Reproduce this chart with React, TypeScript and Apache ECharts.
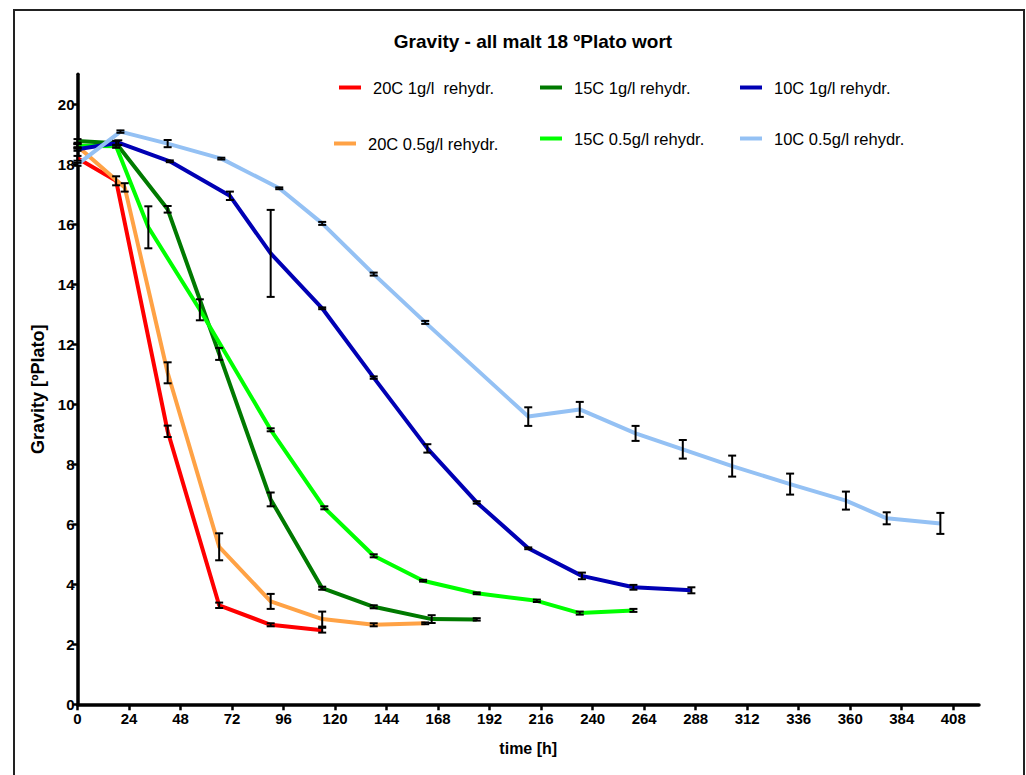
import React, { useEffect, useRef } from 'react';
import * as echarts from 'echarts';

const xTicks = [0, 24, 48, 72, 96, 120, 144, 168, 192, 216, 240, 264, 288, 312, 336, 360, 384, 408];
const yTicks = [0, 2, 4, 6, 8, 10, 12, 14, 16, 18, 20];

const seriesNames = [
  '20C 1g/l  rehydr.',
  '20C 0.5g/l rehydr.',
  '15C 1g/l rehydr.',
  '15C 0.5g/l rehydr.',
  '10C 1g/l rehydr.',
  '10C 0.5g/l rehydr.',
];
const seriesColors = ['#ff0000', '#ffa245', '#007a00', '#00ff00', '#0000b4', '#94c1f4'];

// 20C 1g/l
const hours20a = [0, 18, 42, 66, 90, 114];
const grav20a = [18.2, 17.45, 9.1, 3.3, 2.65, 2.47];
const err20a = [0.08, 0.15, 0.19, 0.09, 0.05, 0.08];
// 20C 0.5g/l
const hours20b = [0, 22, 42, 66, 90, 114, 138, 162];
const grav20b = [18.6, 17.23, 11.05, 5.25, 3.43, 2.84, 2.65, 2.7];
const err20b = [0.08, 0.14, 0.35, 0.45, 0.25, 0.25, 0.05, 0.03];
// 15C 1g/l
const hours15a = [0, 18, 42, 66, 90, 114, 138, 165, 186];
const grav15a = [18.78, 18.7, 16.5, 11.68, 6.83, 3.87, 3.25, 2.84, 2.83];
const err15a = [0.06, 0.08, 0.11, 0.2, 0.23, 0.05, 0.05, 0.13, 0.04];
// 15C 0.5g/l
const hours15b = [0, 18, 33, 57, 90, 115, 138, 161, 186, 214, 234, 259];
const grav15b = [18.62, 18.6, 15.9, 13.15, 9.15, 6.55, 4.95, 4.12, 3.7, 3.45, 3.04, 3.13];
const err15b = [0.05, 0.05, 0.7, 0.35, 0.05, 0.05, 0.05, 0.03, 0.03, 0.04, 0.05, 0.05];
// 10C 1g/l
const hours10a = [0, 19, 43, 71, 90, 114, 138, 163, 186, 210, 235, 259, 286];
const grav10a = [18.5, 18.72, 18.1, 16.95, 15.03, 13.2, 10.89, 8.53, 6.73, 5.2, 4.28, 3.9, 3.8];
const err10a = [0.05, 0.08, 0.03, 0.14, 1.45, 0.03, 0.04, 0.14, 0.04, 0.03, 0.11, 0.08, 0.1];
// 10C 0.5g/l
const hours10b = [0, 20, 42, 67, 94, 114, 138, 162, 210, 234, 260, 282, 305, 332, 358, 377, 402];
const grav10b = [18.0, 19.09, 18.69, 18.19, 17.2, 16.03, 14.34, 12.73, 9.59, 9.83, 9.03, 8.5, 7.94, 7.34, 6.79, 6.2, 6.03];
const err10b = [0.05, 0.04, 0.12, 0.03, 0.03, 0.05, 0.05, 0.05, 0.31, 0.25, 0.25, 0.31, 0.35, 0.35, 0.3, 0.2, 0.35];

const allHours = [hours20a, hours20b, hours15a, hours15b, hours10a, hours10b];
const allGrav = [grav20a, grav20b, grav15a, grav15b, grav10a, grav10b];
const allErr = [err20a, err20b, err15a, err15b, err10a, err10b];

const FONT = '"Liberation Sans", Arial, Helvetica, sans-serif';

// legend placement (icon left x, center y)
const legendPos = [
  { left: 339, cy: 88 },
  { left: 334, cy: 144 },
  { left: 540, cy: 88 },
  { left: 540, cy: 139 },
  { left: 740, cy: 88 },
  { left: 740, cy: 139 },
];

export default function App() {
  const ref = useRef<HTMLDivElement>(null);
  useEffect(() => {
    if (!ref.current) return;
    const chart = echarts.init(ref.current, null, { renderer: 'svg' });

    const lineSeries = seriesNames.map((name, i) => ({
      type: 'line',
      name,
      data: allHours[i].map((h, j) => [h, allGrav[i][j]]),
      symbol: 'none',
      showSymbol: false,
      lineStyle: { width: 4, color: seriesColors[i], join: 'round' },
      itemStyle: { color: seriesColors[i] },
      z: 2,
    }));

    const errSeries = seriesNames.map((name, i) => ({
      type: 'custom',
      name: name + ' SD',
      data: allHours[i].map((h, j) => [h, allGrav[i][j] - allErr[i][j], allGrav[i][j] + allErr[i][j]]),
      encode: { x: 0, y: [1, 2] },
      z: 5,
      silent: true,
      renderItem: (params: any, api: any) => {
        const x = api.value(0);
        const top = api.coord([x, api.value(2)]);
        const bot = api.coord([x, api.value(1)]);
        const hw = 4;
        const st = { stroke: '#000', lineWidth: 2 };
        return {
          type: 'group',
          children: [
            { type: 'line', shape: { x1: top[0], y1: top[1], x2: bot[0], y2: bot[1] }, style: st },
            { type: 'line', shape: { x1: top[0] - hw, y1: top[1], x2: top[0] + hw, y2: top[1] }, style: st },
            { type: 'line', shape: { x1: bot[0] - hw, y1: bot[1], x2: bot[0] + hw, y2: bot[1] }, style: st },
          ],
        };
      },
    }));

    const legends = seriesNames.map((name, i) => ({
      data: [name],
      left: legendPos[i].left,
      top: legendPos[i].cy - 9,
      icon: 'rect',
      itemWidth: 22,
      itemHeight: 4,
      padding: 0,
      itemGap: 0,
      selectedMode: false,
      textStyle: { fontSize: 16.5, color: '#000', fontFamily: FONT, padding: [0, 0, 0, 7] },
    }));

    chart.setOption({
      animation: false,
      backgroundColor: '#fff',
      title: {
        text: 'Gravity - all malt 18 ºPlato wort',
        left: 528,
        top: 27,
        textAlign: 'center',
        textStyle: { fontSize: 19, fontWeight: 'bold', color: '#000', fontFamily: FONT },
      },
      legend: legends,
      grid: { left: 77.5, right: 47, top: 74.3, bottom: 70.7, containLabel: false },
      xAxis: {
        type: 'value',
        min: 0,
        max: 420,
        interval: 24,
        name: 'time [h]',
        nameLocation: 'middle',
        nameGap: 36,
        nameTextStyle: { fontSize: 16, fontWeight: 'bold', color: '#000', fontFamily: FONT },
        axisLine: { show: true, onZero: false, lineStyle: { color: '#000', width: 3.5 } },
        axisTick: { show: true, length: 6, lineStyle: { color: '#000', width: 2.5 }, customValues: xTicks },
        axisLabel: { customValues: xTicks, color: '#000', fontWeight: 'bold', fontSize: 15, margin: 7, fontFamily: FONT },
        splitLine: { show: false },
      },
      yAxis: {
        type: 'value',
        min: 0,
        max: 21,
        interval: 2,
        name: 'Gravity [ºPlato]',
        nameLocation: 'middle',
        nameGap: 31,
        nameRotate: 90,
        nameTextStyle: { fontSize: 18, fontWeight: 'bold', color: '#000', fontFamily: FONT },
        axisLine: { show: true, onZero: false, lineStyle: { color: '#000', width: 3.5 } },
        axisTick: { show: true, length: 5, lineStyle: { color: '#000', width: 2.5 }, customValues: yTicks },
        axisLabel: { customValues: yTicks, color: '#000', fontWeight: 'bold', fontSize: 15, margin: 3, fontFamily: FONT },
        splitLine: { show: false },
      },
      graphic: [
        {
          type: 'rect',
          silent: true,
          z: -10,
          shape: { x: 14, y: 10, width: 1010, height: 800 },
          style: { fill: 'none', stroke: '#222', lineWidth: 2 },
        },
      ],
      series: [...lineSeries, ...errSeries],
    });

    return () => chart.dispose();
  }, []);

  return <div ref={ref} style={{ position: 'absolute', left: 0, top: 0, width: 1026, height: 775 }} />;
}
